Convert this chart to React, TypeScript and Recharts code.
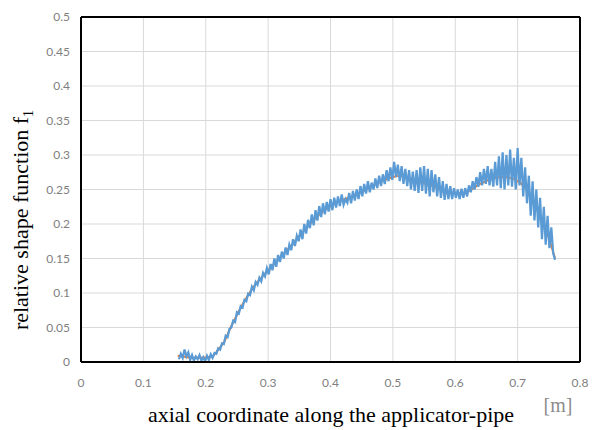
import { LineChart, Line, XAxis, YAxis, CartesianGrid, ReferenceLine } from 'recharts';

// measured shape function (noisy)
const axialX = [
  0.157, 0.160, 0.163, 0.166, 0.169, 0.172, 0.175, 0.178, 0.181, 0.184,
  0.187, 0.190, 0.193, 0.196, 0.199, 0.202, 0.205, 0.208, 0.211, 0.214,
  0.217, 0.220, 0.223, 0.226, 0.229, 0.232, 0.235, 0.238, 0.241, 0.244,
  0.247, 0.250, 0.253, 0.256, 0.259, 0.262, 0.265, 0.268, 0.271, 0.274,
  0.277, 0.280, 0.283, 0.286, 0.289, 0.292, 0.295, 0.298, 0.301, 0.304,
  0.307, 0.310, 0.313, 0.316, 0.319, 0.322, 0.325, 0.328, 0.331, 0.334,
  0.337, 0.340, 0.343, 0.346, 0.349, 0.352, 0.355, 0.358, 0.361, 0.364,
  0.367, 0.370, 0.373, 0.376, 0.379, 0.382, 0.385, 0.388, 0.391, 0.394,
  0.397, 0.400, 0.403, 0.406, 0.409, 0.412, 0.415, 0.418, 0.421, 0.424,
  0.427, 0.430, 0.433, 0.436, 0.439, 0.442, 0.445, 0.448, 0.451, 0.454,
  0.457, 0.460, 0.463, 0.466, 0.469, 0.472, 0.475, 0.478, 0.481, 0.484,
  0.487, 0.490, 0.493, 0.496, 0.499, 0.502, 0.505, 0.508, 0.511, 0.514,
  0.517, 0.520, 0.523, 0.526, 0.529, 0.532, 0.535, 0.538, 0.541, 0.544,
  0.547, 0.550, 0.553, 0.556, 0.559, 0.562, 0.565, 0.568, 0.571, 0.574,
  0.577, 0.580, 0.583, 0.586, 0.589, 0.592, 0.595, 0.598, 0.601, 0.604,
  0.607, 0.610, 0.613, 0.616, 0.619, 0.622, 0.625, 0.628, 0.631, 0.634,
  0.637, 0.640, 0.643, 0.646, 0.649, 0.652, 0.655, 0.658, 0.661, 0.664,
  0.667, 0.670, 0.673, 0.676, 0.679, 0.682, 0.685, 0.688, 0.691, 0.694,
  0.697, 0.700, 0.703, 0.706, 0.709, 0.712, 0.715, 0.718, 0.721, 0.724,
  0.727, 0.730, 0.733, 0.736, 0.739, 0.742, 0.745, 0.748, 0.751, 0.754,
  0.757, 0.760,
];
const shapeF = [
  0.004, 0.012, 0.006, 0.018, 0.008, 0.014, 0.003, 0.010, 0.002, 0.008,
  0.004, 0.010, 0.002, 0.007, 0.001, 0.009, 0.003, 0.011, 0.006, 0.013,
  0.012, 0.020, 0.018, 0.027, 0.026, 0.038, 0.036, 0.048, 0.050, 0.060,
  0.058, 0.072, 0.070, 0.081, 0.079, 0.090, 0.088, 0.099, 0.097, 0.109,
  0.104, 0.116, 0.112, 0.122, 0.117, 0.129, 0.124, 0.136, 0.127, 0.142,
  0.133, 0.150, 0.138, 0.155, 0.145, 0.160, 0.150, 0.166, 0.155, 0.170,
  0.162, 0.178, 0.168, 0.183, 0.175, 0.192, 0.178, 0.200, 0.186, 0.206,
  0.194, 0.214, 0.198, 0.220, 0.205, 0.226, 0.210, 0.230, 0.214, 0.232,
  0.218, 0.236, 0.220, 0.238, 0.224, 0.240, 0.226, 0.243, 0.228, 0.236,
  0.231, 0.245, 0.230, 0.248, 0.234, 0.250, 0.236, 0.255, 0.240, 0.258,
  0.244, 0.262, 0.246, 0.260, 0.250, 0.266, 0.252, 0.270, 0.255, 0.272,
  0.258, 0.278, 0.262, 0.282, 0.264, 0.290, 0.268, 0.286, 0.262, 0.284,
  0.258, 0.280, 0.255, 0.278, 0.250, 0.276, 0.248, 0.278, 0.245, 0.282,
  0.248, 0.284, 0.244, 0.280, 0.240, 0.278, 0.246, 0.272, 0.240, 0.268,
  0.238, 0.262, 0.235, 0.258, 0.236, 0.255, 0.236, 0.252, 0.238, 0.250,
  0.236, 0.251, 0.238, 0.252, 0.240, 0.256, 0.246, 0.262, 0.250, 0.268,
  0.254, 0.275, 0.256, 0.280, 0.258, 0.284, 0.256, 0.280, 0.254, 0.290,
  0.256, 0.298, 0.252, 0.304, 0.250, 0.300, 0.256, 0.308, 0.254, 0.296,
  0.250, 0.310, 0.256, 0.296, 0.240, 0.282, 0.230, 0.270, 0.212, 0.262,
  0.205, 0.250, 0.195, 0.238, 0.178, 0.225, 0.170, 0.212, 0.165, 0.195,
  0.158, 0.148,
];

// smoothed curve
const smoothX = [
  0.155, 0.17, 0.19, 0.21, 0.22, 0.23, 0.24, 0.25, 0.26, 0.27, 0.28, 0.29, 0.30, 0.32,
  0.34, 0.36, 0.38, 0.40, 0.42, 0.44, 0.46, 0.48, 0.50, 0.51, 0.52, 0.54, 0.56, 0.58,
  0.60, 0.61, 0.62, 0.64, 0.66, 0.68, 0.70, 0.71, 0.72, 0.73, 0.74, 0.75, 0.76,
];
const smoothF = [
  0.009, 0.007, 0.006, 0.008, 0.018, 0.03, 0.05, 0.068, 0.085, 0.1, 0.113, 0.123, 0.133, 0.152,
  0.172, 0.193, 0.212, 0.226, 0.235, 0.242, 0.251, 0.261, 0.268, 0.27, 0.269, 0.262, 0.256, 0.25,
  0.245, 0.245, 0.247, 0.258, 0.266, 0.268, 0.262, 0.255, 0.243, 0.226, 0.205, 0.18, 0.15,
];

const xTicks = [0, 0.1, 0.2, 0.3, 0.4, 0.5, 0.6, 0.7, 0.8];
const yTicks = [0, 0.05, 0.1, 0.15, 0.2, 0.25, 0.3, 0.35, 0.4, 0.45, 0.5];

const measured = axialX.map((x, i) => ({ x, f: shapeF[i] }));
const smooth = smoothX.map((x, i) => ({ x, f: smoothF[i] }));

const tickStyle = { fill: '#7f7f7f', fontSize: 12, fontFamily: 'Lato' };
const serif = '"Liberation Serif", "DejaVu Serif", serif';

const App = () => {
  return (
    <div style={{ position: 'absolute', left: 0, top: 0, width: 592, height: 430, background: '#fff' }}>
      <LineChart width={592} height={430} margin={{ top: 17, right: 12, bottom: 38, left: 0 }}>
        <CartesianGrid stroke='#d9d9d9' strokeWidth={1} />
        <XAxis type='number' dataKey='x' domain={[0, 0.8]} ticks={xTicks} axisLine={false} tickLine={false}
          tick={tickStyle} tickMargin={10} height={30} allowDataOverflow />
        <YAxis type='number' domain={[0, 0.5]} ticks={yTicks} axisLine={false} tickLine={false}
          tick={tickStyle} tickSize={0} tickMargin={11} width={81} allowDataOverflow />
        <Line data={smooth} dataKey='f' type='monotone' stroke='#ed7d31' strokeWidth={2} dot={false} isAnimationActive={false} />
        <Line data={measured} dataKey='f' type='linear' stroke='#5b9bd5' strokeWidth={2.25} dot={false} isAnimationActive={false} />
        <ReferenceLine x={0} stroke='#000' strokeWidth={2} />
        <ReferenceLine x={0.8} stroke='#000' strokeWidth={2} />
        <ReferenceLine y={0} stroke='#000' strokeWidth={2} />
        <ReferenceLine y={0.5} stroke='#000' strokeWidth={2} />
      </LineChart>
      <div style={{ position: 'absolute', left: 21, top: 220, transform: 'translate(-50%, -50%) rotate(-90deg)',
        whiteSpace: 'nowrap', fontFamily: serif, fontSize: 22, lineHeight: '24px', color: '#000' }}>
        relative shape function f<sub style={{ fontSize: 14, lineHeight: 0 }}>1</sub>
      </div>
      <div style={{ position: 'absolute', left: 331, top: 415, transform: 'translate(-50%, -50%)',
        whiteSpace: 'nowrap', fontFamily: serif, fontSize: 22, lineHeight: '22px', color: '#000' }}>
        axial coordinate along the applicator-pipe
      </div>
      <div style={{ position: 'absolute', left: 558, top: 405, transform: 'translate(-50%, -50%)',
        whiteSpace: 'nowrap', fontFamily: serif, fontSize: 20, lineHeight: '20px', color: '#8c8c8c' }}>
        [m]
      </div>
    </div>
  );
};

export default App;
